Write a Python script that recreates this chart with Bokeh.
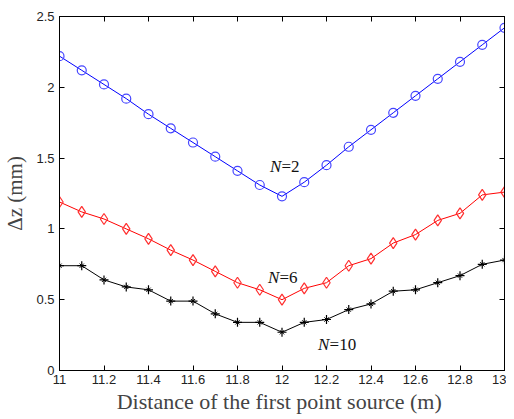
from bokeh.plotting import figure
from bokeh.models import Range1d, LinearAxis, FixedTicker
from bokeh.core.properties import value
from bokeh.embed import file_html
from bokeh.resources import INLINE

x_vals = [11.0, 11.1, 11.2, 11.3, 11.4, 11.5, 11.6, 11.7, 11.8, 11.9, 12.0,
          12.1, 12.2, 12.3, 12.4, 12.5, 12.6, 12.7, 12.8, 12.9, 13.0]
n2_vals = [2.22, 2.12, 2.02, 1.92, 1.81, 1.71, 1.61, 1.51, 1.41, 1.31, 1.23,
           1.33, 1.45, 1.58, 1.70, 1.82, 1.94, 2.06, 2.18, 2.30, 2.42]
n6_vals = [1.19, 1.12, 1.07, 1.00, 0.93, 0.85, 0.78, 0.70, 0.62, 0.57, 0.50,
           0.58, 0.62, 0.74, 0.79, 0.90, 0.96, 1.06, 1.11, 1.24, 1.26]
n10_vals = [0.74, 0.74, 0.64, 0.59, 0.57, 0.49, 0.49, 0.40, 0.34, 0.34, 0.27,
            0.34, 0.36, 0.43, 0.47, 0.56, 0.57, 0.62, 0.67, 0.75, 0.78]

x_ticks = [11, 11.2, 11.4, 11.6, 11.8, 12, 12.2, 12.4, 12.6, 12.8, 13]
x_tick_labels = ["11", "11.2", "11.4", "11.6", "11.8", "12", "12.2", "12.4", "12.6", "12.8", "13"]
y_ticks = [0, 0.5, 1, 1.5, 2, 2.5]
y_tick_labels = ["0", "0.5", "1", "1.5", "2", "2.5"]

label_n = ["2", "6", "10"]
label_x = [11.946, 11.937, 12.162]
label_y = [1.443, 0.659, 0.184]

p = figure(width=506, height=419, output_backend="svg", toolbar_location=None,
           x_range=Range1d(11, 13), y_range=Range1d(0, 2.5),
           min_border_left=54, min_border_right=2, min_border_top=16, min_border_bottom=49)
p.xgrid.visible = False
p.ygrid.visible = False
p.outline_line_color = "black"
p.outline_line_width = 1

serif = "Liberation Serif"
sans = "Liberation Sans"

for ax, ticks, labels in ((p.xaxis[0], x_ticks, x_tick_labels), (p.yaxis[0], y_ticks, y_tick_labels)):
    ax.ticker = FixedTicker(ticks=ticks)
    ax.major_label_overrides = {t: l for t, l in zip(ticks, labels)}
    ax.major_tick_in = 5
    ax.major_tick_out = 0
    ax.minor_tick_in = 0
    ax.minor_tick_out = 0
    ax.major_label_text_font = sans
    ax.major_label_text_font_size = "13px"
    ax.major_label_text_color = "#222222"
    ax.axis_label_text_font = serif
    ax.axis_label_text_font_style = "normal"
    ax.axis_line_color = "black"
    ax.major_tick_line_color = "black"

p.xaxis[0].axis_label = "Distance  of the first point source (m)"
p.xaxis[0].axis_label_text_font_size = "22px"
p.xaxis[0].major_label_standoff = 4
p.xaxis[0].axis_label_standoff = 2
p.yaxis[0].axis_label = "\u0394z (mm)"
p.yaxis[0].axis_label_text_font_size = "21px"
p.yaxis[0].major_label_standoff = 5
p.yaxis[0].axis_label_standoff = 6

top = LinearAxis(ticker=FixedTicker(ticks=x_ticks),
                 major_label_overrides={t: "" for t in x_ticks},
                 major_tick_in=5, major_tick_out=0, minor_tick_in=0, minor_tick_out=0,
                 major_label_standoff=0)
right = LinearAxis(ticker=FixedTicker(ticks=y_ticks),
                   major_label_overrides={t: "" for t in y_ticks},
                   major_tick_in=5, major_tick_out=0, minor_tick_in=0, minor_tick_out=0,
                   major_label_standoff=0)
p.add_layout(top, "above")
p.add_layout(right, "right")

p.line(x_vals, n2_vals, line_color="blue", line_width=1)
p.scatter(x_vals, n2_vals, marker="circle", size=9, fill_color=None, line_color="#4646ff", line_width=1.2)

p.line(x_vals, n6_vals, line_color="red", line_width=1)
p.scatter(x_vals, n6_vals, marker="diamond", size=11, fill_color=None, line_color="#ff3030", line_width=1.2)

p.line(x_vals, n10_vals, line_color="black", line_width=1)
p.scatter(x_vals, n10_vals, marker="cross", size=9, line_color="black", line_width=1.2)
p.scatter(x_vals, n10_vals, marker="x", size=6, line_color="black", line_width=1)

p.text(label_x, label_y, text=["N"] * 3, text_font=value(serif), text_font_style="italic",
       text_font_size="17px", text_baseline="alphabetic", text_align="left", text_color="#111111")
p.text(label_x, label_y, text=["=" + n for n in label_n], text_font=value(serif),
       text_font_size="17px", text_baseline="alphabetic", text_align="left", x_offset=11.5,
       text_color="#111111")

open("out.html", "w").write(file_html(p, INLINE))
